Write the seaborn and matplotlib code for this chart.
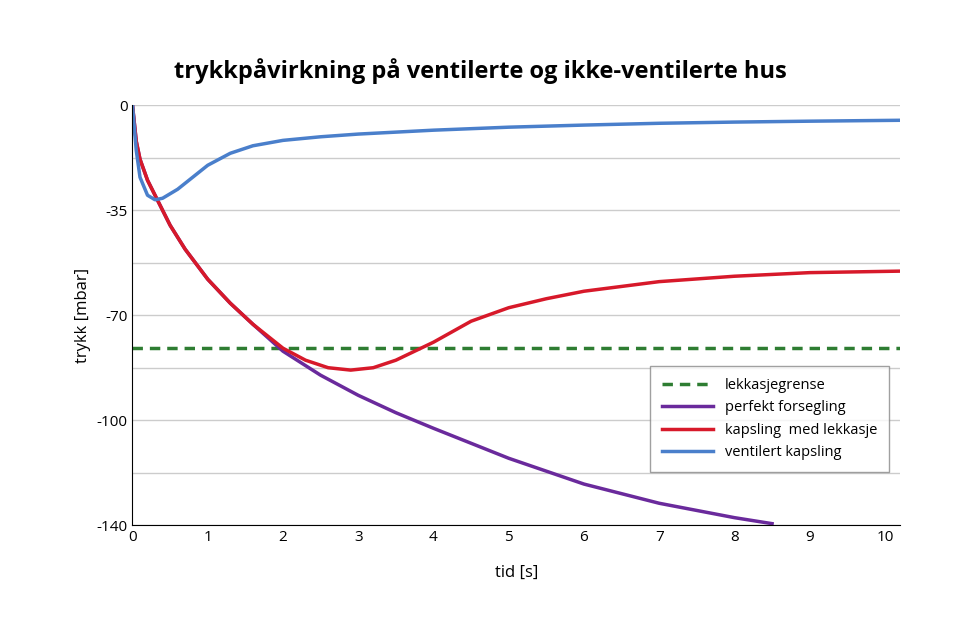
import matplotlib
matplotlib.use("Agg")
import matplotlib.pyplot as plt
import seaborn as sns
import pandas as pd

# data
t_vent = [0, 0.05, 0.1, 0.2, 0.3, 0.4, 0.6, 0.8, 1.0, 1.3, 1.6, 2.0, 2.5, 3, 4, 5, 6, 7, 8, 9, 10.2]
p_vent = [0, -15, -24, -30, -31.5, -31, -28, -24, -20, -16, -13.5, -11.7, -10.5, -9.6, -8.3, -7.3, -6.6, -6, -5.6, -5.3, -5]

t_leak = [0, 0.05, 0.1, 0.2, 0.3, 0.5, 0.7, 1.0, 1.3, 1.6, 2.0, 2.3, 2.6, 2.9, 3.2, 3.5, 4, 4.5, 5, 5.5, 6, 7, 8, 9, 10.2]
p_leak = [0, -12, -18, -25, -30, -40, -48, -58, -66, -73, -81, -85, -87.5, -88.3, -87.5, -85, -79, -72, -67.5, -64.5, -62, -58.8, -57, -55.8, -55.3]

t_perf = [0, 0.05, 0.1, 0.2, 0.3, 0.5, 0.7, 1.0, 1.3, 1.6, 2.0, 2.5, 3, 3.5, 4, 5, 6, 7, 8, 8.5]
p_perf = [0, -12, -18, -25, -30, -40, -48, -58, -66, -73, -82, -90, -96.7, -102.5, -107.7, -117.7, -126.3, -132.7, -137.5, -139.5]

leak_limit = -81
y_ticks = [0, -35, -70, -105, -140]
y_labels = ["0", "-35", "-70", "-100", "-140"]

plt.rcParams["font.family"] = "Open Sans"
fig, ax = plt.subplots(figsize=(9.6, 6.42), dpi=100)
fig.subplots_adjust(left=0.138, right=0.9375, top=0.836, bottom=0.182)

for i in range(9):
    ax.axhline(-17.5 * i, color="#cccccc", lw=1, zorder=0)

ax.axhline(leak_limit, color="#2e7d32", lw=2.5, ls=(0, (3, 2)), label="lekkasjegrense")
sns.lineplot(x=t_perf, y=p_perf, ax=ax, color="#6a2a9c", lw=2.5, label="perfekt forsegling")
sns.lineplot(x=t_leak, y=p_leak, ax=ax, color="#d7192a", lw=2.5, label="kapsling  med lekkasje")
sns.lineplot(x=t_vent, y=p_vent, ax=ax, color="#4a7fcb", lw=2.5, label="ventilert kapsling")

ax.set_xlim(0, 10.2)
ax.set_ylim(-140, 0)
ax.set_xticks(range(0, 11))
ax.set_yticks(y_ticks)
ax.set_yticklabels(y_labels)
ax.tick_params(length=0, labelsize=11)
for s in ["top", "right"]:
    ax.spines[s].set_visible(False)
ax.spines["left"].set_color("black")
ax.spines["bottom"].set_color("black")
ax.set_xlabel("tid [s]", fontsize=12, labelpad=14)
ax.set_ylabel("trykk [mbar]", fontsize=12)
fig.suptitle("trykkpåvirkning på ventilerte og ikke-ventilerte hus",
             fontsize=17, fontweight="bold", y=0.91)
leg = ax.legend(loc="lower right", bbox_to_anchor=(0.995, 0.11), fontsize=10.5,
                frameon=True, fancybox=False, edgecolor="#888888", handlelength=3.5,
                borderpad=0.8)
plt.savefig("out.png")
